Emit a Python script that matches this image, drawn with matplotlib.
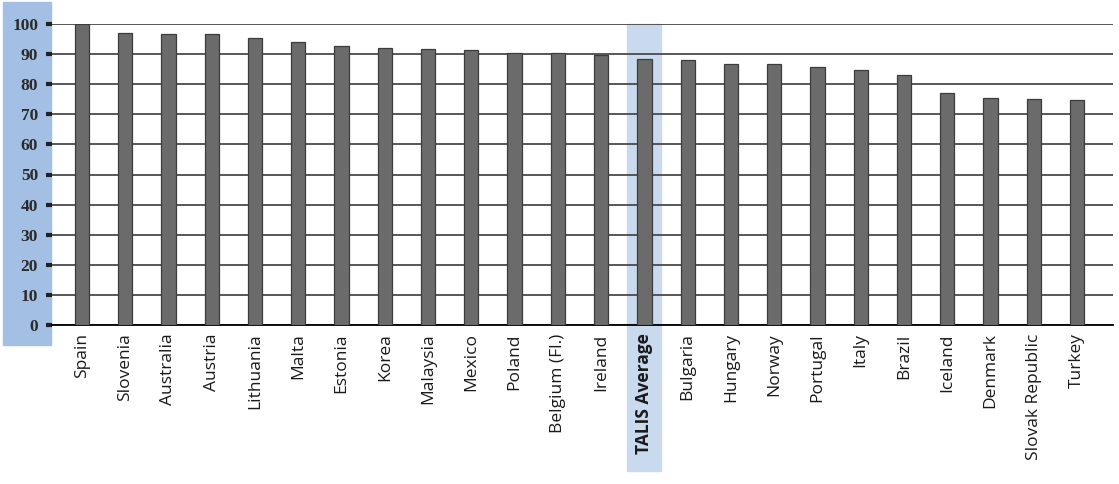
import numpy as np
import matplotlib.pyplot as plt
from matplotlib.patches import Rectangle

countries = ["Spain", "Slovenia", "Australia", "Austria", "Lithuania", "Malta",
             "Estonia", "Korea", "Malaysia", "Mexico", "Poland", "Belgium (Fl.)",
             "Ireland", "TALIS Average", "Bulgaria", "Hungary", "Norway", "Portugal",
             "Italy", "Brazil", "Iceland", "Denmark", "Slovak Republic", "Turkey"]
values = [100.0, 97.0, 96.7, 96.7, 95.5, 94.0,
          92.7, 91.9, 91.7, 91.5, 90.3, 90.3,
          89.7, 88.5, 88.2, 86.8, 86.6, 85.7,
          84.6, 83.0, 77.0, 75.5, 75.0, 74.7]
yticks = [0, 10, 20, 30, 40, 50, 60, 70, 80, 90, 100]
highlight = "TALIS Average"

W, H = 1119, 484
fig = plt.figure(figsize=(W / 100, H / 100), dpi=100)

# blue band behind the y tick labels
fig.patches.append(Rectangle((3 / W, 1 - 345 / H), 48 / W, 343 / H,
                             transform=fig.transFigure, color="#a3bfe3", zorder=-5))

ax = fig.add_axes([52 / W, 1 - 325 / H, (1113 - 52) / W, (325 - 24) / H])
ax.patch.set_alpha(0)

x = np.arange(len(countries))
hi = countries.index(highlight)

# highlight column for the average, reaching down over its label
ax.add_patch(Rectangle((hi - 0.395, -48.5), 0.79, 148.5, color="#c9d9ee",
                       zorder=0, clip_on=False))

ax.set_yticks(yticks)
ax.set_ylim(0, 100)
ax.set_xlim(-0.69, 23.83)
ax.yaxis.grid(True, color="#4a4a4a", linewidth=1.3)
ax.set_axisbelow(True)

ax.bar(x, values, width=0.33, color="#6b6b6b", edgecolor="#3c3c3c",
       linewidth=0.9, zorder=3)

for s in ["top", "right", "left"]:
    ax.spines[s].set_visible(False)
ax.spines["bottom"].set_color("black")
ax.spines["bottom"].set_linewidth(1.3)

ax.tick_params(axis="y", length=4, width=3, color="#222222", pad=6)
ax.tick_params(axis="x", length=0, pad=6)
for lbl in ax.get_yticklabels():
    lbl.set_family("Liberation Serif")
    lbl.set_fontweight("bold")
    lbl.set_fontsize(12.5)
    lbl.set_color("#2a2a2a")

ax.set_xticks(x)
ax.set_xticklabels(countries, rotation=90, fontsize=12.5, family="Open Sans",
                   color="#1a1a1a")
ax.get_xticklabels()[hi].set_fontweight("bold")

fig.savefig("out.png", dpi=100)
